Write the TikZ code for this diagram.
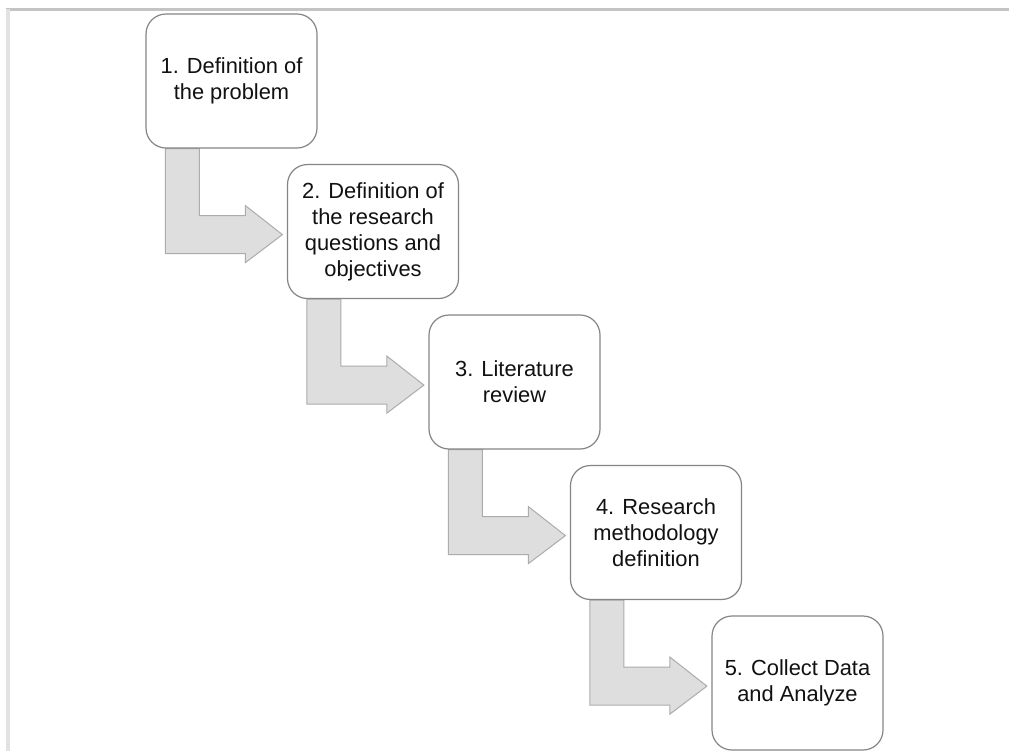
\documentclass[tikz,border=0pt]{standalone}
\usepackage{fontspec}
\setmainfont{Liberation Sans}
\usetikzlibrary{calc}
\pgfdeclarelayer{background}
\pgfsetlayers{background,main}
\definecolor{boxline}{HTML}{858585}
\definecolor{arrfill}{HTML}{DEDEDE}
\definecolor{arrline}{HTML}{ACACAC}
\definecolor{frametop}{HTML}{C4C4C4}
\definecolor{frameleft}{HTML}{E2E2E2}
\definecolor{txt}{HTML}{111111}
\tikzset{
  stepbox/.style={draw=boxline, line width=0.9pt, fill=white, rounded corners=15pt,
    minimum width=128.25pt, minimum height=100.5pt, inner sep=0pt, align=center,
    text=txt, font=\fontsize{16.4}{19.5}\selectfont},
  bentarrow/.style={draw=arrline, fill=arrfill, line width=0.75pt, line join=miter}
}
\newcommand{\bentarrowfrom}[1]{%
  \draw[bentarrow] ([xshift=15pt]#1.south west) -- ++(0,105) -- ++(80,0) -- ++(0,9)
    -- ++(37,-28) -- ++(-37,-29) -- ++(0,10) -- ++(-46,0) -- ++(0,-67) -- cycle;}
\begin{document}
\begin{tikzpicture}[x=0.75pt,y=-0.75pt]
\useasboundingbox (0,0) rectangle (1009,751);
\begin{pgfonlayer}{background}
\fill[white] (0,0) rectangle (1009,751);
\draw[frametop, line width=1.6pt] (6,9.5) -- (1009,9.5);
\draw[frameleft, line width=2.6pt] (8,9) -- (8,751);
\end{pgfonlayer}
\node[stepbox] (b1) at (231.5,81) {1. Definition of\\the problem};
\node[stepbox] (b2) at (373,231.5) {2. Definition of\\the research\\questions and\\objectives};
\node[stepbox] (b3) at (514.5,382) {3. Literature\\review};
\node[stepbox] (b4) at (656,532.5) {4. Research\\methodology\\definition};
\node[stepbox] (b5) at (797.5,683) {5. Collect Data\\and Analyze};
\begin{pgfonlayer}{background}
\bentarrowfrom{b1}
\bentarrowfrom{b2}
\bentarrowfrom{b3}
\bentarrowfrom{b4}
\end{pgfonlayer}
\end{tikzpicture}
\end{document}
